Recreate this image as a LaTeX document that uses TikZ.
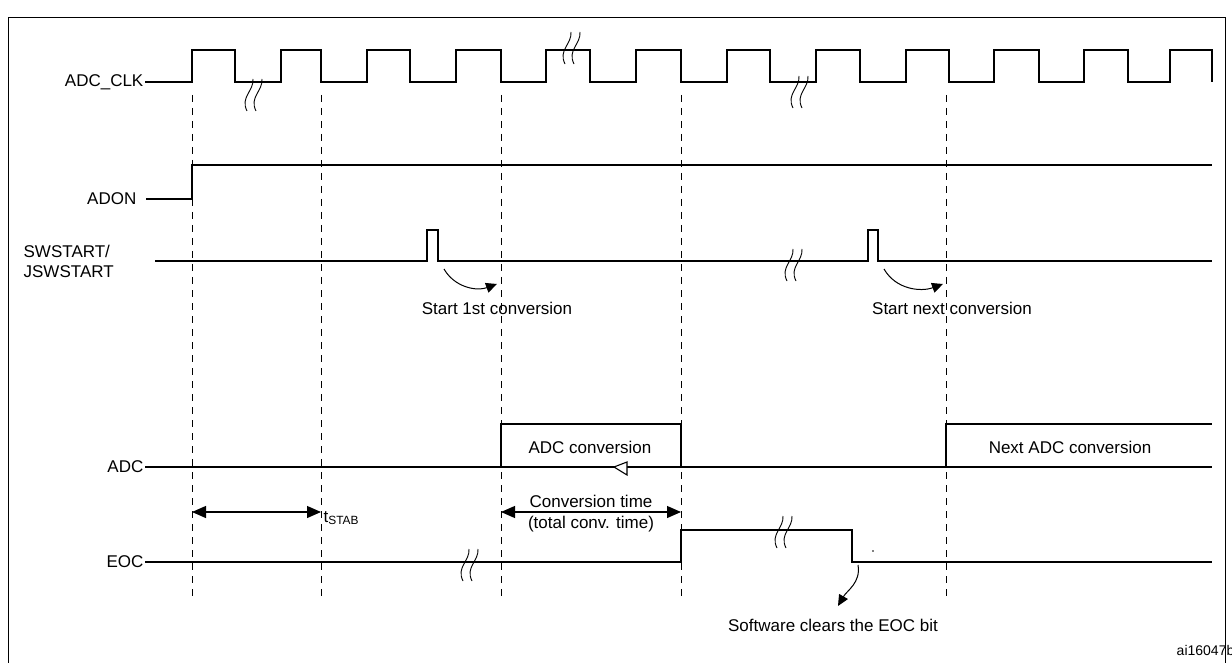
\documentclass[tikz,border=0pt]{standalone}
\usepackage{fontspec}
\setmainfont{Liberation Sans}
\usetikzlibrary{positioning}
\usetikzlibrary{calc}
\usetikzlibrary{arrows.meta}
\newcommand{\brk}[2]{%
  \draw[line width=0.9pt] (#1-3,#2+16) .. controls (#1-10,#2+2) and (#1+4,#2-4) .. (#1+3,#2-16);
  \draw[line width=0.9pt] (#1+6,#2+16) .. controls (#1-1,#2+2) and (#1+13,#2-4) .. (#1+12,#2-16);}
\begin{document}
\begin{tikzpicture}[x=1pt,y=-1pt,font=\fontsize{17}{20}\selectfont,line width=1.3pt]

	\tikzstyle{sig}=[line width=1.8pt];
	\tikzstyle{guide}=[dashed,line width=1pt,dash pattern=on 7pt off 6pt];
	\tikzstyle{label}=[inner sep=1pt];
	\tikzstyle{span}=[{Triangle[length=14pt,width=12pt]}-{Triangle[length=14pt,width=12pt]},line width=1.2pt];
	\tikzstyle{hint}=[-{Triangle[length=11pt,width=10pt]},line width=1pt];

	\useasboundingbox (0,0) rectangle (1232,663);
	\draw[line width=1pt] (8,663) |- (1225,18) -- (1225,663);

	% signal names
	\node (clk) [label,anchor=east] at (145,82) {ADC\_CLK};
	\node (adon) [label,anchor=east] at (138,199) {ADON};
	\node (sw) [label,anchor=west,align=left] at (22,261) {SWSTART/\\JSWSTART};
	\node (adc) [label,anchor=east] at (145,467) {ADC};
	\node (eoc) [label,anchor=east] at (145,562) {EOC};

	% guides
	\foreach \x in {192,321,501,681,946}
		\draw[guide] (\x,95) -- (\x,600);

	% ADC_CLK
	\draw[sig] (clk.east) -- (192,82)
		\foreach \r/\f in {192/235,281/321,367/410,456/501,546/590,636/681,727/770,816/860,906/949,994/1039,1084/1128,1170/1212}
		{ -- (\r,82) -- (\r,50) -- (\f,50) -- (\f,82) };
	\brk{250}{95} \brk{568}{48} \brk{796}{92}

	% ADON
	\draw[sig] (adon.east) ++(8,0) -- (192,199) -- (192,165) -- (1212,165);

	% SWSTART
	\coordinate (p1) at (438,261);
	\coordinate (p2) at (878,261);
	\draw[line width=1.2pt] (155,261) -- (427,261) -- (427,230) -- (438,230) -- (p1)
		-- (868,261) -- (868,230) -- (878,230) -- (p2) -- (1212,261);
	\brk{790}{265}
	\node (s1) [label] at (497,308) {Start 1st conversion};
	\node (s2) [label] at (952,308) {Start next conversion};
	\draw[hint] ($(p1)+(6,8)$) to[out=-60,in=200] (497,284);
	\draw[hint] ($(p2)+(6,8)$) to[out=-60,in=200] (943,284);

	% ADC
	\draw[sig] (adc.east) -- (1212,467);
	\draw[sig] (501,467) -- (501,424) -- (681,424) -- (681,467);
	\draw[sig] (946,467) -- (946,424) -- (1212,424);
	\node (conv) [label] at (590,447) {ADC conversion};
	\node (next) [label] at (1070,447) {Next ADC conversion};
	\draw[line width=1.1pt,fill=white] (614,467) -- (627,462) -- (627,475) -- cycle;

	% spans
	\draw[span] (192,512) -- (321,512);
	\node (tstab) [label,anchor=west] at (322,518) {t\textsubscript{STAB}};
	\draw[span] (501,512) -- (681,512);
	\node (ct) [label,above=3pt of {$(501,512)!0.5!(681,512)$}] {Conversion time};
	\node (tot) [label,below=3pt of {$(501,512)!0.5!(681,512)$}] {(total conv. time)};

	% EOC
	\draw[sig] (eoc.east) -- (681,562) -- (681,530) -- (852,530) -- (852,562) -- (1212,562);
	\brk{466}{565} \brk{780}{532}
	\fill (873,551) circle (0.8pt);
	\node (clr) [label] at (833,625) {Software clears the EOC bit};
	\draw[hint] (858,565) to[out=-80,in=60] (838,606);

	\node (ref) [label,anchor=east,font=\fontsize{14}{16}\selectfont] at (1236,650) {ai16047b};
\end{tikzpicture}
\end{document}
